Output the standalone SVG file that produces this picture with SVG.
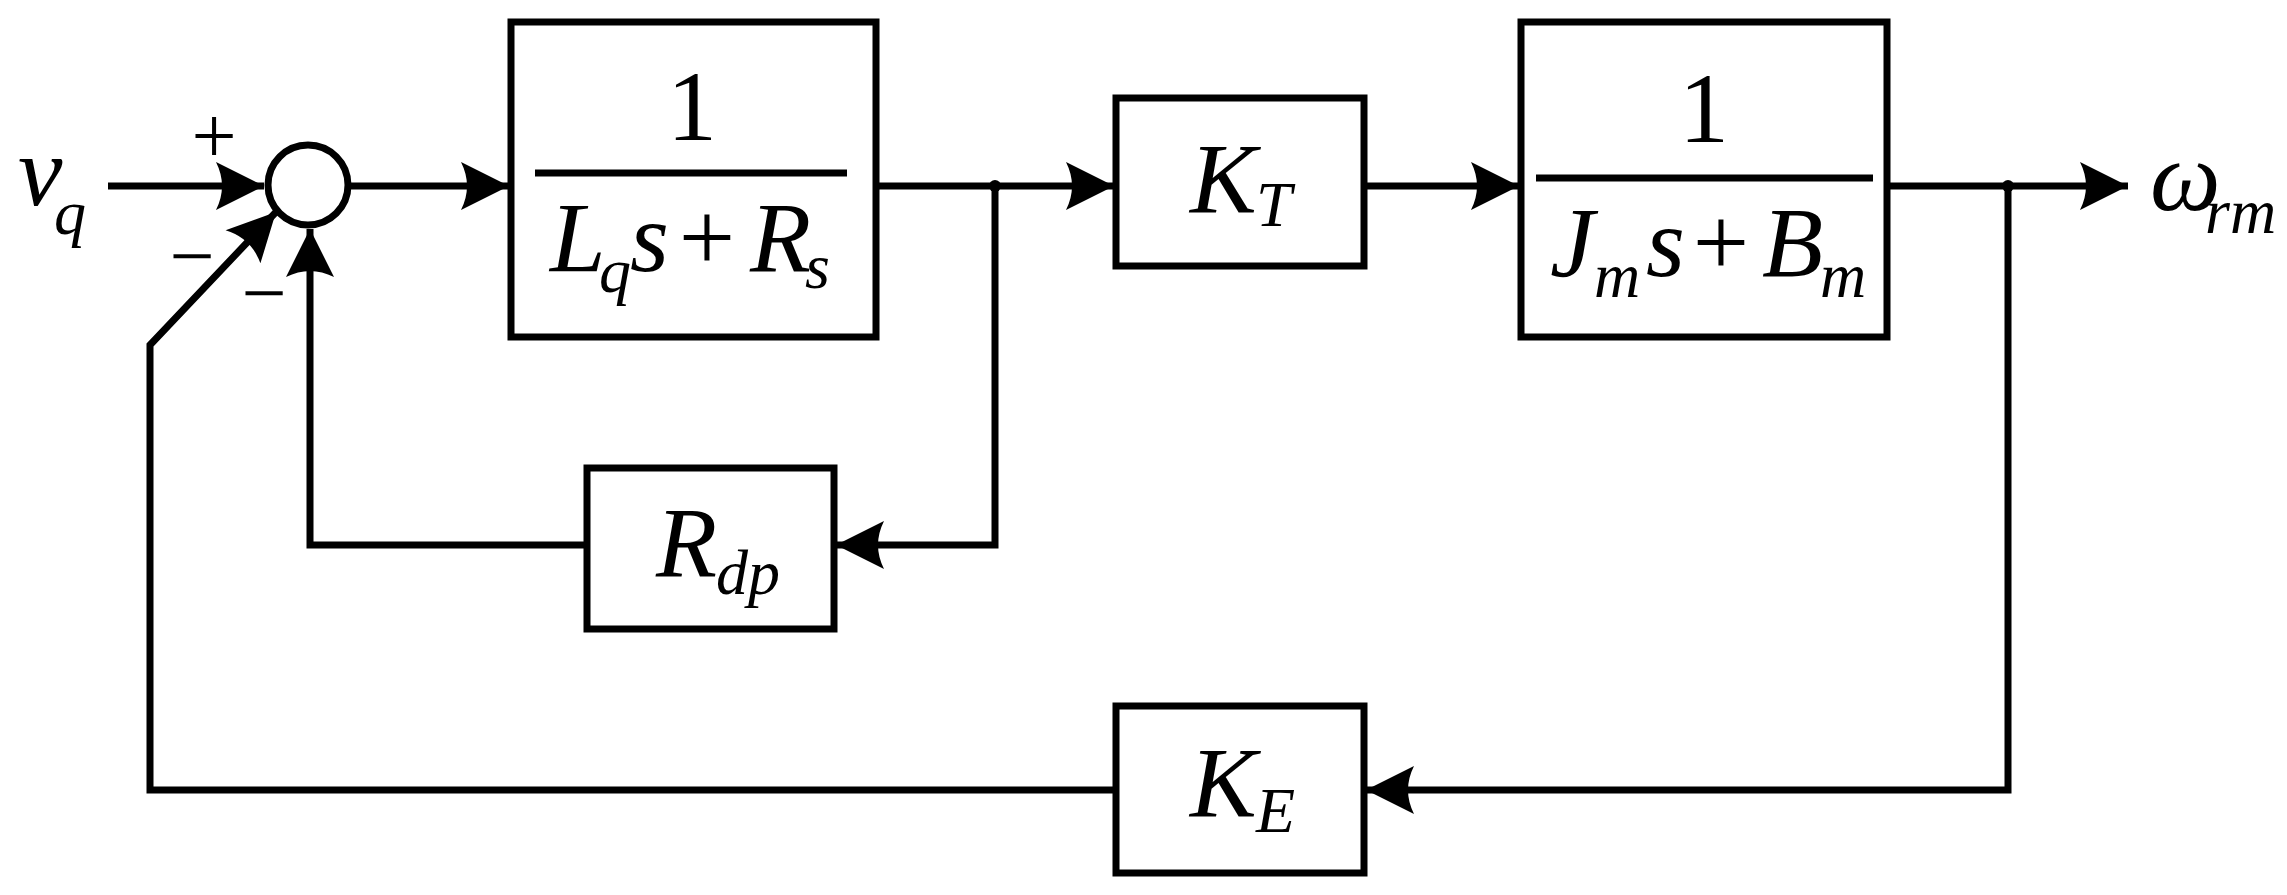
<svg xmlns="http://www.w3.org/2000/svg" width="2287" height="895" viewBox="0 0 2287 895" font-family="'Liberation Serif','Times New Roman',serif">
<style>
.b{fill:none;stroke:#000;stroke-width:7}
.w{fill:none;stroke:#000;stroke-width:7;stroke-linejoin:miter}
text{font-family:'Liberation Serif','Times New Roman',serif;font-style:italic;fill:#000}
.m{font-size:100px}
.s{font-size:64px}
.n{font-style:normal}
</style>
<defs>
<marker id="a" markerUnits="userSpaceOnUse" markerWidth="60" markerHeight="60" viewBox="-50 -30 60 60" refX="0" refY="0" orient="auto">
<path d="M0,0 L-48,-24 Q-36,0 -48,24 Z" fill="#000"/>
</marker>
</defs>
<rect width="2287" height="895" fill="#fff"/>
<g id="connectors">
<path class="w" d="M108,186 H264" marker-end="url(#a)"/>
<path class="w" d="M348,186 H509" marker-end="url(#a)"/>
<path class="w" d="M876,186 H1114" marker-end="url(#a)"/>
<path class="w" d="M1364,186 H1519" marker-end="url(#a)"/>
<path class="w" d="M1887,186 H2128" marker-end="url(#a)"/>
<path class="w" d="M995,186 V545 H836" marker-end="url(#a)"/>
<path class="w" d="M587,545 H310 V229" marker-end="url(#a)"/>
<path class="w" d="M2008,186 V790 H1366" marker-end="url(#a)"/>
<path class="w" d="M1116,790 H150 V345 L276,212" marker-end="url(#a)"/>
<circle cx="995" cy="186" r="6"/>
<circle cx="2008" cy="186" r="6"/>
</g>
<g id="sum">
<circle class="b" cx="308" cy="185" r="40"/>
<text class="n" x="214" y="163" font-size="80" text-anchor="middle">+</text>
<text class="n" x="192" y="283" font-size="80" text-anchor="middle">−</text>
<text class="n" x="264" y="320" font-size="80" text-anchor="middle">−</text>
</g>
<g id="input"><text class="m" x="18" y="205">v</text><text class="s" x="54" y="234">q</text></g>
<g id="output"><text class="m" x="2150" y="210">ω</text><text class="s" x="2205" y="233">rm</text></g>
<g id="g1">
<rect class="b" x="511" y="22" width="365" height="315"/>
<line class="b" x1="535" y1="173" x2="847" y2="173"/>
<text class="n m" x="692" y="140" text-anchor="middle">1</text>
<text class="m" x="550" y="271">L</text><text class="s" x="599" y="292">q</text><text class="m" x="630" y="271">s</text><text class="n m" x="707" y="271" text-anchor="middle">+</text><text class="m" x="750" y="271">R</text><text class="s" x="805" y="288">s</text>
</g>
<g id="kt">
<rect class="b" x="1116" y="98" width="248" height="168"/>
<text class="m" x="1190" y="212">K</text><text class="s" x="1256" y="226">T</text>
</g>
<g id="g2">
<rect class="b" x="1521" y="22" width="366" height="315"/>
<line class="b" x1="1536" y1="178" x2="1873" y2="178"/>
<text class="n m" x="1704" y="142" text-anchor="middle">1</text>
<text class="m" x="1550" y="276">J</text><text class="s" x="1594" y="297">m</text><text class="m" x="1646" y="276">s</text><text class="n m" x="1721" y="276" text-anchor="middle">+</text><text class="m" x="1762" y="276">B</text><text class="s" x="1820" y="297">m</text>
</g>
<g id="rdp">
<rect class="b" x="587" y="468" width="247" height="161"/>
<text class="m" x="656" y="576">R</text><text class="s" x="716" y="594">dp</text>
</g>
<g id="ke">
<rect class="b" x="1116" y="706" width="248" height="167"/>
<text class="m" x="1190" y="816">K</text><text class="s" x="1256" y="832">E</text>
</g>
</svg>
